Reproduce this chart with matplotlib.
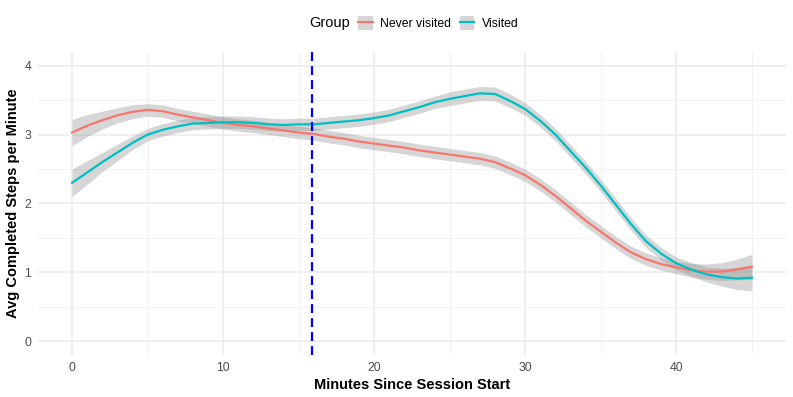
import numpy as np
import matplotlib.pyplot as plt
from matplotlib.lines import Line2D
from matplotlib.patches import Patch
from matplotlib.legend_handler import HandlerTuple

plt.rcParams['font.family'] = ['Liberation Sans', 'DejaVu Sans']

# 세션 시작 후 분
minutes = list(range(0, 46))

# Never visited 그룹 (loess 곡선 값)
never_avg = [3.03, 3.13, 3.21, 3.28, 3.33, 3.36, 3.34, 3.29, 3.25, 3.21,
             3.17, 3.14, 3.12, 3.09, 3.06, 3.03, 3.01, 2.97, 2.94, 2.90,
             2.87, 2.84, 2.81, 2.77, 2.74, 2.71, 2.68, 2.65, 2.60, 2.51,
             2.41, 2.27, 2.11, 1.93, 1.75, 1.59, 1.43, 1.29, 1.19, 1.12,
             1.07, 1.03, 1.01, 1.01, 1.04, 1.08]
never_se = [0.19, 0.16, 0.13, 0.11, 0.10, 0.09, 0.09, 0.09, 0.09, 0.09,
            0.09, 0.09, 0.09, 0.09, 0.09, 0.09, 0.09, 0.09, 0.09, 0.09,
            0.09, 0.09, 0.09, 0.09, 0.09, 0.09, 0.09, 0.09, 0.09, 0.09,
            0.09, 0.09, 0.09, 0.09, 0.09, 0.09, 0.09, 0.09, 0.09, 0.09,
            0.09, 0.10, 0.11, 0.13, 0.15, 0.18]

# Visited 그룹
visited_avg = [2.30, 2.45, 2.60, 2.74, 2.88, 3.00, 3.07, 3.12, 3.16, 3.17,
               3.18, 3.18, 3.17, 3.15, 3.14, 3.15, 3.15, 3.17, 3.19, 3.21,
               3.24, 3.28, 3.34, 3.40, 3.47, 3.52, 3.56, 3.60, 3.59, 3.49,
               3.37, 3.20, 3.00, 2.76, 2.52, 2.26, 1.98, 1.70, 1.45, 1.27,
               1.13, 1.04, 0.97, 0.93, 0.91, 0.92]
visited_se = [0.20, 0.17, 0.14, 0.12, 0.10, 0.09, 0.09, 0.09, 0.09, 0.09,
              0.09, 0.09, 0.09, 0.09, 0.09, 0.09, 0.09, 0.09, 0.09, 0.09,
              0.09, 0.09, 0.09, 0.09, 0.09, 0.10, 0.10, 0.10, 0.10, 0.10,
              0.09, 0.09, 0.09, 0.09, 0.09, 0.09, 0.09, 0.09, 0.09, 0.09,
              0.09, 0.10, 0.11, 0.13, 0.16, 0.19]

cutoff_minute = 15.87  # 파란 점선 위치

groups = ['Never visited', 'Visited']
colors = ['#F8766D', '#00BFC4']

x = np.array(minutes)
fig = plt.figure(figsize=(7.93, 3.97), dpi=100)
ax = fig.add_axes([0.048, 0.106, 0.943, 0.763])

for avg, se, col in [(never_avg, never_se, colors[0]), (visited_avg, visited_se, colors[1])]:
    avg = np.array(avg)
    se = np.array(se)
    ax.fill_between(x, avg - se, avg + se, color='#999999', alpha=0.4, lw=0, zorder=2)
    ax.plot(x, avg, color=col, lw=1.6, zorder=3, solid_joinstyle='round')

ax.axvline(cutoff_minute, color='blue', lw=1.6, linestyle=(0, (4.0, 2.3)), zorder=4)

# 축 범위 (ggplot 기본 확장)
ax.set_xlim(-2.25, 47.25)
ax.set_ylim(-0.2, 4.2)
ax.set_xticks([0, 10, 20, 30, 40])
ax.set_xticks([5, 15, 25, 35, 45], minor=True)
ax.set_yticks([0, 1, 2, 3, 4])
ax.set_yticks([0.5, 1.5, 2.5, 3.5], minor=True)

ax.grid(True, which='major', color='#EBEBEB', lw=1.1)
ax.grid(True, which='minor', color='#F2F2F2', lw=0.7)
ax.set_axisbelow(True)
for s in ax.spines.values():
    s.set_visible(False)
ax.tick_params(which='both', length=0, labelsize=8.8, labelcolor='#4D4D4D')
ax.tick_params(axis='x', pad=5)
ax.tick_params(axis='y', pad=5)

ax.set_xlabel('Minutes Since Session Start', fontsize=10.5, fontweight='bold', labelpad=3)
ax.set_ylabel('Avg Completed Steps per Minute', fontsize=10.5, fontweight='bold', labelpad=3)

# 범례 (상단)
fig.text(309 / 793, 1 - 23 / 397, 'Group', fontsize=10.5, va='center', ha='left')
handles = [(Patch(facecolor='#D6D6D6', edgecolor='none'), Line2D([], [], color=c, lw=1.6))
           for c in colors]
fig.legend(handles, groups, loc='center left', bbox_to_anchor=(358 / 793, 1 - 23 / 397),
           ncol=2, frameon=False, fontsize=8.8, handlelength=1.2, handleheight=1.4,
           handletextpad=0.6, columnspacing=0.7, borderpad=0, borderaxespad=0,
           handler_map={tuple: HandlerTuple(ndivide=1, pad=0)})

fig.savefig('out.png', dpi=100)
